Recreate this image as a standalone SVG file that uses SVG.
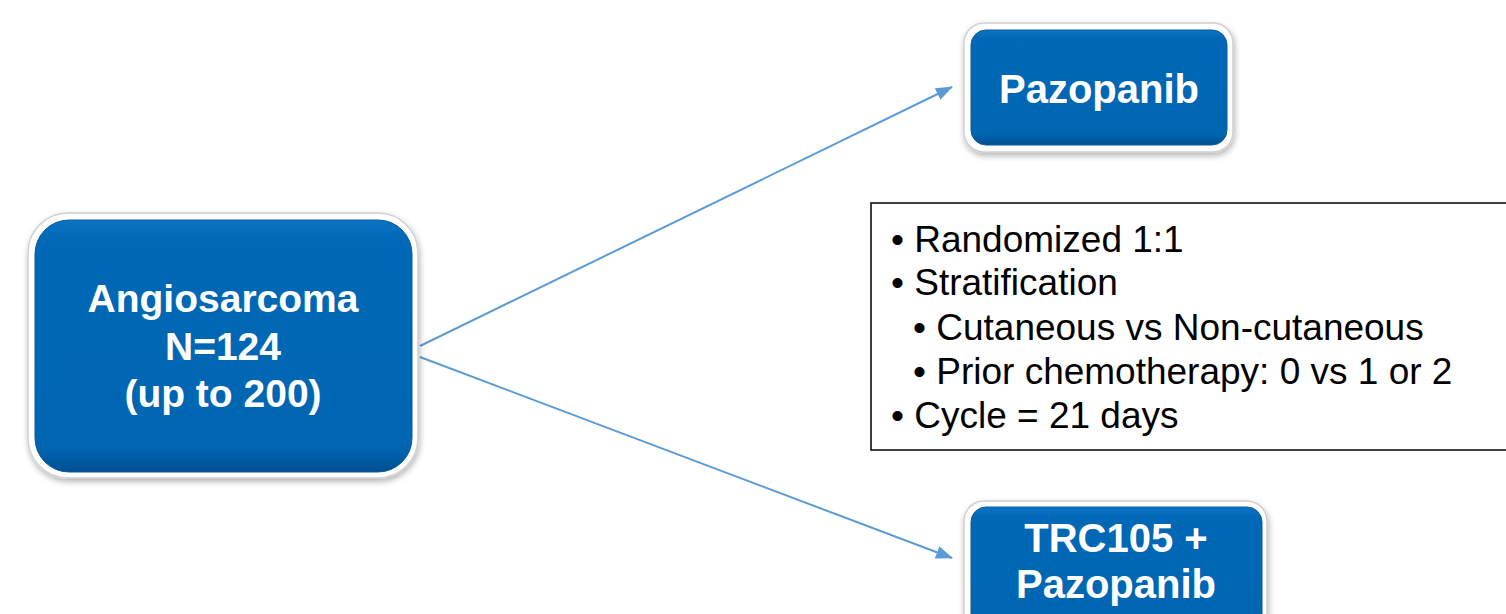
<svg xmlns="http://www.w3.org/2000/svg" width="1506" height="614" viewBox="0 0 1506 614">
<defs>
<style>
.frame{fill:#ffffff;stroke:#d0d0d0;stroke-width:1.5;filter:url(#sh)}
.blue{fill:url(#bg);stroke:#0a5aa0;stroke-width:1}
.lbl{font-family:"Liberation Sans",Arial,sans-serif;font-weight:bold;fill:#ffffff;text-anchor:middle}
.conn{stroke:#5b9bd5;stroke-width:2;fill:none;marker-end:url(#ah)}
.note{font-family:"Liberation Sans",Arial,sans-serif;font-size:37px;fill:#000000}
</style>
<linearGradient id="bg" x1="0" y1="0" x2="0" y2="1">
<stop offset="0" stop-color="#0a74c4"/>
<stop offset="0.08" stop-color="#0068b6"/>
<stop offset="0.9" stop-color="#0066b2"/>
<stop offset="1" stop-color="#004f91"/>
</linearGradient>
<filter id="sh" x="-10%" y="-10%" width="120%" height="125%">
<feGaussianBlur in="SourceAlpha" stdDeviation="3"/>
<feOffset dx="1" dy="3" result="b"/>
<feComponentTransfer><feFuncA type="linear" slope="0.3"/></feComponentTransfer>
<feMerge><feMergeNode/><feMergeNode in="SourceGraphic"/></feMerge>
</filter>
<marker id="ah" markerWidth="17" markerHeight="13" refX="16" refY="6.5" orient="auto" markerUnits="userSpaceOnUse">
<path d="M0,0 L17,6.5 L0,13 Z" fill="#5b9bd5"/>
</marker>
</defs>
<rect width="1506" height="614" fill="#ffffff"/>
<g id="connectors">
<line class="conn" x1="420" y1="346" x2="952" y2="87"/>
<line class="conn" x1="420" y1="357" x2="952" y2="558"/>
</g>
<g id="angiosarcoma">
<rect class="frame" x="28" y="213" width="390" height="265" rx="40"/>
<rect class="blue" x="35" y="220" width="377" height="252" rx="34"/>
<text class="lbl" font-size="39" x="223" y="312">Angiosarcoma</text>
<text class="lbl" font-size="39" x="223" y="360">N=124</text>
<text class="lbl" font-size="39" x="223" y="407">(up to 200)</text>
</g>
<g id="pazopanib">
<rect class="frame" x="964" y="23" width="269" height="129" rx="20"/>
<rect class="blue" x="971" y="30" width="256" height="115" rx="15"/>
<text class="lbl" font-size="40" x="1099" y="103">Pazopanib</text>
</g>
<g id="trc105">
<rect class="frame" x="964" y="501" width="303" height="140" rx="20"/>
<rect class="blue" x="971" y="507" width="291" height="125" rx="15"/>
<text class="lbl" font-size="40" x="1116" y="552">TRC105 +</text>
<text class="lbl" font-size="40" x="1116" y="598">Pazopanib</text>
</g>
<g id="notes">
<rect x="871" y="203" width="650" height="247" fill="#ffffff" stroke="#000000" stroke-width="1.5"/>
<text class="note" x="891" y="252">• Randomized 1:1</text>
<text class="note" x="891" y="295">• Stratification</text>
<text class="note" x="913" y="340">• Cutaneous vs Non-cutaneous</text>
<text class="note" x="913" y="384">• Prior chemotherapy: 0 vs 1 or 2</text>
<text class="note" x="891" y="428">• Cycle = 21 days</text>
</g>
</svg>
